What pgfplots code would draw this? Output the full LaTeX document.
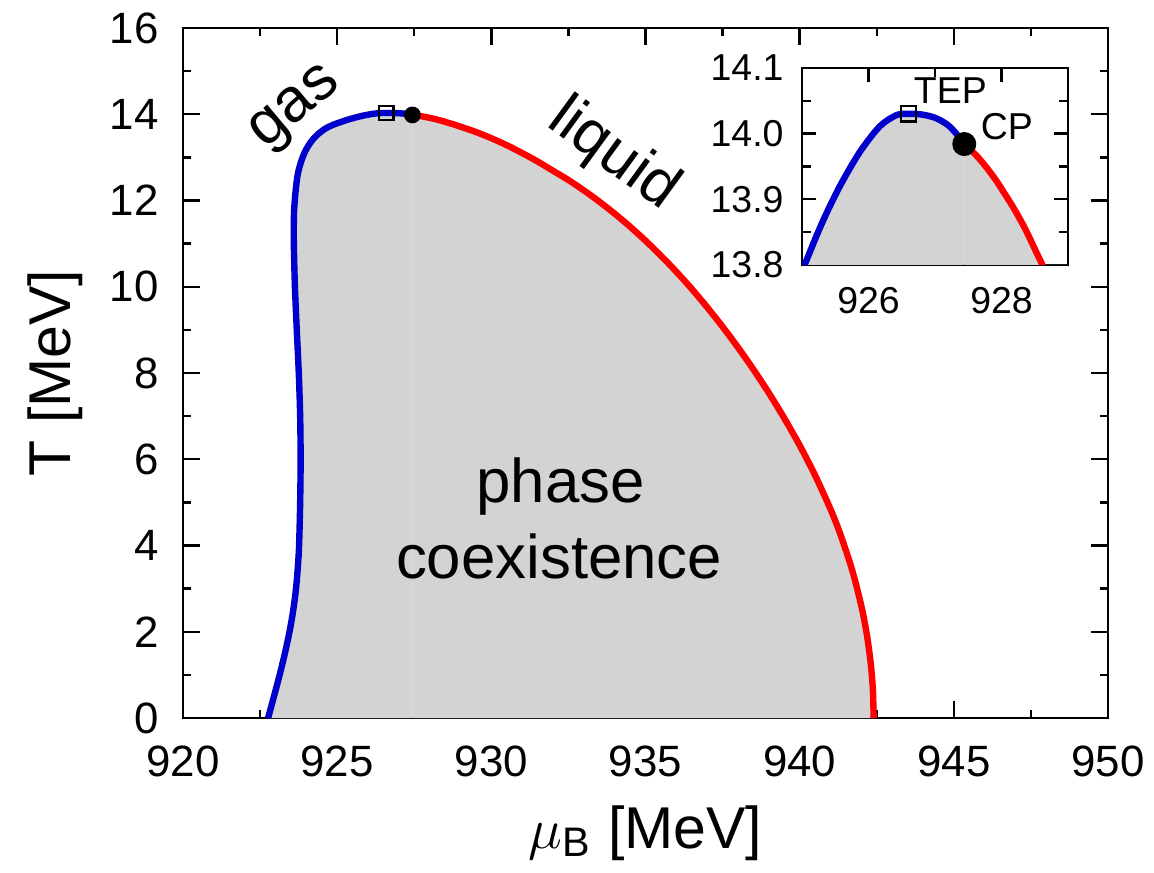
\documentclass[border=0pt]{standalone}
\usepackage{fontspec}
\setmainfont{Liberation Sans}
\usepackage{pgfplots}
\pgfplotsset{compat=1.18}
\usepackage{pgfplotstable}

\definecolor{fillgray}{RGB}{211,211,211}
\definecolor{cblue}{RGB}{0,0,205}
\definecolor{cred}{RGB}{255,0,0}

\pgfplotstableread{
mu T
922.76 0
922.95 0.5
923.135 1.0
923.305 1.5
923.455 2.0
923.575 2.5
923.665 3.0
923.725 3.5
923.765 4.0
923.80 5.0
923.815 6.0
923.80 7.0
923.755 8.0
923.69 9.0
923.63 10.0
923.595 11.0
923.60 11.7
923.65 12.2
923.72 12.6
923.83 12.9
923.97 13.15
924.15 13.36
924.35 13.52
924.60 13.66
924.85 13.75
925.12 13.82
925.32 13.868
925.57 13.920
925.87 13.972
926.17 14.011
926.42 14.028
926.60 14.030
926.80 14.029
927.00 14.024
927.18 14.014
927.31 14.001
927.44 13.984
}\gasdata

\pgfplotstableread{
mu T
927.44 13.984
927.56 13.973
927.68 13.960
927.80 13.945
927.93 13.927
928.05 13.908
928.18 13.887
928.35 13.856
928.53 13.818
928.75 13.771
929.00 13.713
929.50 13.589
930.00 13.445
930.50 13.283
931.00 13.100
931.50 12.905
932.00 12.690
932.50 12.475
933.00 12.235
933.50 11.975
934.00 11.695
934.50 11.393
935.00 11.068
935.50 10.720
936.00 10.348
936.50 9.950
937.00 9.525
937.50 9.073
938.00 8.593
938.50 8.083
939.00 7.538
939.50 6.953
940.00 6.323
940.50 5.628
941.00 4.843
941.30 4.300
941.60 3.670
941.80 3.180
942.00 2.600
942.10 2.250
942.20 1.840
942.30 1.300
942.35 0.920
942.38 0.580
942.40 0
}\liqdata

\begin{document}
\begin{tikzpicture}
\path[use as bounding box] (-45.75bp,-38.75bp) rectangle (242.75bp,179.5bp);
\begin{axis}[
  at={(0,0)}, anchor=south west,
  scale only axis, width=231.25bp, height=172.5bp,
  xmin=920, xmax=950, ymin=0, ymax=16,
  xtick={920,925,...,950}, ytick={0,2,...,16},
  minor x tick num=1, minor y tick num=1,
  tick align=inside,
  major tick length=4.2bp, minor tick length=2.1bp,
  axis line style={line width=0.6bp},
  every tick/.style={line width=0.6bp, black},
  /pgf/number format/assume math mode=true,
  tick label style={font=\fontsize{11}{13}\selectfont},
  xticklabel style={yshift=-3.4bp},
  yticklabel style={xshift=-2.6bp},
  xlabel={$\mu$\textsubscript{B} [MeV]},
  ylabel={T [MeV]},
  label style={font=\fontsize{14.8}{17}\selectfont},
  xlabel style={at={(axis description cs:0.5,-0.1667)}, anchor=center},
  ylabel style={at={(axis description cs:-0.1384,0.5)}, anchor=center, rotate=0},
]
\addplot[fill=fillgray, draw=none, smooth, tension=0.5] table {\gasdata} \closedcycle;
\addplot[fill=fillgray, draw=none, smooth, tension=0.5] table {\liqdata} \closedcycle;
\addplot[cblue, line width=1.6bp, smooth, tension=0.5] table {\gasdata};
\addplot[cred, line width=1.6bp, smooth, tension=0.5] table {\liqdata};
\addplot[only marks, mark=square, mark size=1.8bp, mark options={black, line width=0.6bp}] coordinates {(926.60,14.03)};
\addplot[only marks, mark=*, mark size=1.9bp, black] coordinates {(927.44,13.984)};
\node[rotate=40, font=\fontsize{15.5}{18}\selectfont] at (axis cs:923.7,14.1) {gas};
\node[rotate=-36, font=\fontsize{15.5}{18}\selectfont] at (axis cs:933.95,13.05) {liquid};
\node[font=\fontsize{15.5}{18}\selectfont] at (axis cs:932.25,5.36) {phase};
\node[font=\fontsize{15.5}{18}\selectfont] at (axis cs:932.2,3.74) {coexistence};
\end{axis}

\begin{axis}[
  at={(154.75bp,113.25bp)}, anchor=south west,
  scale only axis, width=66.5bp, height=49.25bp,
  xmin=925, xmax=929, ymin=13.8, ymax=14.1,
  xtick={926,928}, minor xtick={925,927,929},
  ytick={13.8,13.9,14.0,14.1}, minor ytick={13.85,13.95,14.05},
  tick align=inside,
  major tick length=3.6bp, minor tick length=2.2bp,
  axis line style={line width=0.6bp},
  every tick/.style={line width=0.6bp, black},
  axis background/.style={fill=white},
  /pgf/number format/assume math mode=true,
  tick label style={font=\fontsize{9.4}{11}\selectfont},
  xticklabel style={yshift=-2.2bp},
  yticklabel style={xshift=-1.1bp, /pgf/number format/.cd, fixed, fixed zerofill, precision=1},
]
\addplot[fill=fillgray, draw=none, smooth, tension=0.5] table {\gasdata} \closedcycle;
\addplot[fill=fillgray, draw=none, smooth, tension=0.5] table {\liqdata} \closedcycle;
\addplot[cblue, line width=1.6bp, smooth, tension=0.5] table {\gasdata};
\addplot[cred, line width=1.6bp, smooth, tension=0.5] table {\liqdata};
\addplot[only marks, mark=square, mark size=1.9bp, mark options={black, line width=0.6bp}] coordinates {(926.60,14.03)};
\addplot[only marks, mark=*, mark size=2.8bp, black] coordinates {(927.44,13.984)};
\node[font=\fontsize{9.4}{11}\selectfont] at (axis cs:927.23,14.066) {TEP};
\node[font=\fontsize{9.4}{11}\selectfont] at (axis cs:928.08,14.01) {CP};
\end{axis}
\end{tikzpicture}
\end{document}
